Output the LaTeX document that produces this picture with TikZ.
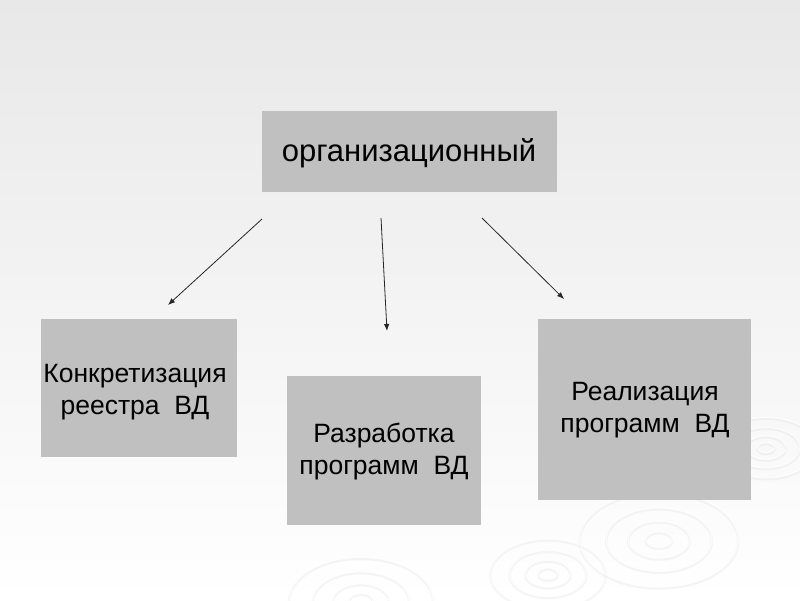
\documentclass[tikz,border=0pt]{standalone}
\usepackage{fontspec}
\setmainfont{Liberation Sans}
\usetikzlibrary{arrows.meta}
\definecolor{bgtop}{RGB}{232,232,232}
\definecolor{bgmid}{RGB}{240,240,240}
\definecolor{boxgray}{RGB}{192,192,192}
\tikzset{
  box/.style={fill=boxgray, draw=none, inner sep=0pt},
  lbl/.style={align=center, inner sep=0pt, text=black, font=\fontsize{26.5}{32}\selectfont},
  conn/.style={draw=black!85, line width=0.8pt, -{Latex[length=7pt,width=5.5pt]}},
  ripple/.style={draw=gray!40, line width=2.5pt, opacity=0.18},
  rippleW/.style={draw=white, line width=1.4pt, opacity=0.7}
}
\begin{document}
\begin{tikzpicture}[x=1pt,y=-1pt]
\useasboundingbox (0,0) rectangle (800,600);
\shade[top color=bgtop, middle color=bgmid, bottom color=white] (0,0) rectangle (800,600);
% decorative ripples
\foreach \cx/\cy/\s in {361/602/1, 548/575/0.8, 659/541/1.1, 766/449/0.7}{
  \foreach \r in {12,28,48,72}{
    \draw[ripple] (\cx,\cy) ellipse [x radius=\s*\r, y radius=\s*\r*0.6];
    \draw[rippleW] (\cx,\cy-1.5) ellipse [x radius=\s*\r, y radius=\s*\r*0.6];
  }
}
% boxes
\node[box, minimum width=295pt, minimum height=81pt] (top) at (409.5,151.5) {};
\node[box, minimum width=196pt, minimum height=138pt] (left) at (139,388) {};
\node[box, minimum width=194pt, minimum height=149pt] (mid) at (384,450.5) {};
\node[box, minimum width=213pt, minimum height=181pt] (right) at (644.5,409.5) {};
% texts
\node[lbl, font=\fontsize{31}{36}\selectfont] (ttop) at (409,153) {организационный};
\node[lbl] (tleft) at (135,392) {Конкретизация\\ реестра\ \ ВД};
\node[lbl] (tmid) at (384,452) {Разработка\\программ\ \ ВД};
\node[lbl] (tright) at (645,410) {Реализация\\программ\ \ ВД};
% connectors
\coordinate (a1s) at (262,219); \coordinate (a1e) at (168,305);
\coordinate (a2s) at (381,218); \coordinate (a2e) at (387,331);
\coordinate (a3s) at (482,218); \coordinate (a3e) at (564,299);
\draw[conn] (a1s) -- (a1e);
\draw[conn] (a2s) -- (a2e);
\draw[conn] (a3s) -- (a3e);
\end{tikzpicture}
\end{document}
